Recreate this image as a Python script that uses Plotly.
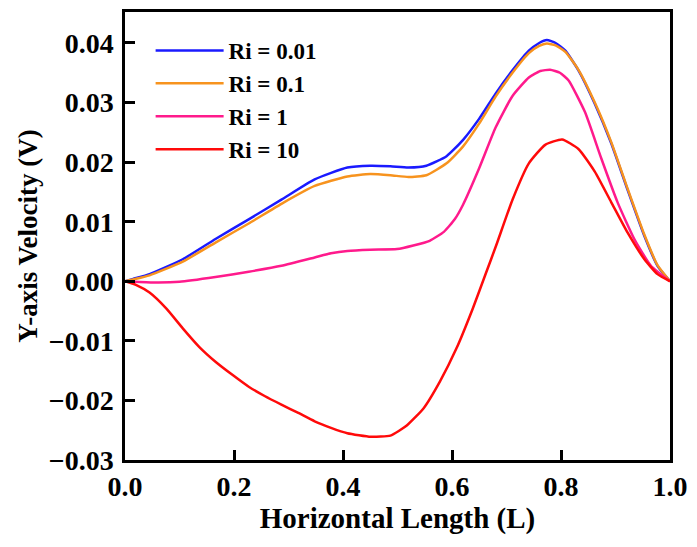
import plotly.graph_objects as go

# Ri = 0.01
x_a = [0.0, 0.015, 0.045, 0.106, 0.166, 0.227, 0.287, 0.348, 0.408, 0.45, 0.487, 0.52, 0.553, 0.59, 0.62, 0.65, 0.68, 0.711, 0.741, 0.760, 0.774, 0.790, 0.808, 0.832, 0.862, 0.892, 0.922, 0.953, 0.977, 1.0]
y_a = [0.0, 0.0004, 0.0012, 0.0037, 0.0071, 0.0104, 0.0137, 0.0171, 0.0191, 0.0194, 0.0193, 0.0191, 0.0194, 0.0210, 0.0237, 0.0273, 0.0315, 0.0354, 0.0387, 0.0400, 0.0405, 0.0400, 0.0387, 0.0354, 0.0298, 0.0232, 0.0154, 0.0076, 0.0026, 0.0]
# Ri = 0.1
x_b = [0.0, 0.015, 0.045, 0.106, 0.166, 0.227, 0.287, 0.348, 0.408, 0.45, 0.487, 0.52, 0.553, 0.59, 0.62, 0.65, 0.68, 0.711, 0.741, 0.760, 0.774, 0.790, 0.808, 0.832, 0.862, 0.892, 0.922, 0.953, 0.977, 1.0]
y_b = [0.0, 0.0003, 0.0010, 0.0033, 0.0065, 0.0097, 0.0130, 0.0160, 0.0176, 0.0180, 0.0178, 0.0175, 0.0178, 0.0198, 0.0226, 0.0265, 0.0310, 0.0350, 0.0383, 0.0395, 0.0399, 0.0396, 0.0385, 0.0355, 0.0300, 0.0234, 0.0156, 0.0078, 0.0027, 0.0]
# Ri = 1
x_c = [0.0, 0.05, 0.1, 0.166, 0.227, 0.287, 0.348, 0.378, 0.408, 0.45, 0.499, 0.529, 0.559, 0.585, 0.605, 0.62, 0.65, 0.68, 0.711, 0.741, 0.762, 0.78, 0.798, 0.814, 0.844, 0.874, 0.904, 0.935, 0.965, 1.0]
y_c = [0.0, -0.0002, -0.0001, 0.0007, 0.0016, 0.0026, 0.0040, 0.0047, 0.0051, 0.0053, 0.0054, 0.0060, 0.0068, 0.0083, 0.0104, 0.0128, 0.0190, 0.0258, 0.0311, 0.0342, 0.0353, 0.0355, 0.0350, 0.0337, 0.0284, 0.0206, 0.0132, 0.0070, 0.0026, 0.0]
# Ri = 10
x_d = [0.0, 0.02, 0.045, 0.076, 0.106, 0.136, 0.166, 0.197, 0.227, 0.257, 0.287, 0.318, 0.348, 0.378, 0.408, 0.451, 0.487, 0.517, 0.548, 0.578, 0.608, 0.638, 0.662, 0.681, 0.711, 0.741, 0.771, 0.802, 0.832, 0.862, 0.892, 0.922, 0.953, 0.977, 1.0]
y_d = [0.0, -0.0006, -0.0019, -0.0046, -0.0079, -0.0110, -0.0135, -0.0157, -0.0177, -0.0193, -0.0207, -0.0221, -0.0235, -0.0246, -0.0255, -0.0261, -0.0259, -0.0242, -0.0213, -0.0168, -0.0113, -0.0046, 0.0013, 0.0060, 0.0137, 0.0198, 0.0229, 0.0238, 0.0222, 0.0184, 0.0133, 0.0082, 0.0037, 0.0012, 0.0]

names = ["Ri = 0.01", "Ri = 0.1", "Ri = 1", "Ri = 10"]
colors = ["#1a1aff", "#f7931e", "#ff1a8c", "#ff0a0a"]

FONT = "Liberation Serif"

fig = go.Figure()
for xs, ys, nm, c in zip([x_a, x_b, x_c, x_d], [y_a, y_b, y_c, y_d], names, colors):
    fig.add_trace(go.Scatter(x=xs, y=ys, mode="lines", name=nm,
                             line=dict(color=c, width=2.5, shape="spline", smoothing=0.5)))

fig.update_layout(
    width=697, height=547,
    margin=dict(l=125, r=21, t=9, b=87),
    paper_bgcolor="white", plot_bgcolor="white",
    font=dict(family=FONT, color="black", size=28, weight="bold"),
    legend=dict(x=0.047, y=0.962, xanchor="left", yanchor="top",
                font=dict(family=FONT, size=23, weight="bold"),
                bgcolor="rgba(0,0,0,0)", itemwidth=68, tracegroupgap=0),
    showlegend=True,
)
fig.update_xaxes(
    range=[0, 1], tickvals=[0, 0.2, 0.4, 0.6, 0.8, 1.0], tickformat=".1f",
    ticks="inside", ticklen=10, tickwidth=2.5, tickcolor="black",
    showline=True, linewidth=2.5, linecolor="black", mirror=True,
    showgrid=False, zeroline=False,
    tickfont=dict(family=FONT, size=28, weight="bold"),
    title=dict(text="Horizontal Length (L)", font=dict(family=FONT, size=29, weight="bold"), standoff=2),
)
fig.update_yaxes(
    range=[-0.03, 0.0452], tickvals=[-0.03, -0.02, -0.01, 0.0, 0.01, 0.02, 0.03, 0.04], tickformat=".2f",
    ticks="inside", ticklen=10, tickwidth=2.5, tickcolor="black",
    showline=True, linewidth=2.5, linecolor="black", mirror=True,
    showgrid=False, zeroline=False, ticklabelstandoff=3,
    tickfont=dict(family=FONT, size=28, weight="bold"),
    title=dict(text="Y-axis Velocity (V)", font=dict(family=FONT, size=27, weight="bold"), standoff=4),
)

fig.write_html("out.html")
